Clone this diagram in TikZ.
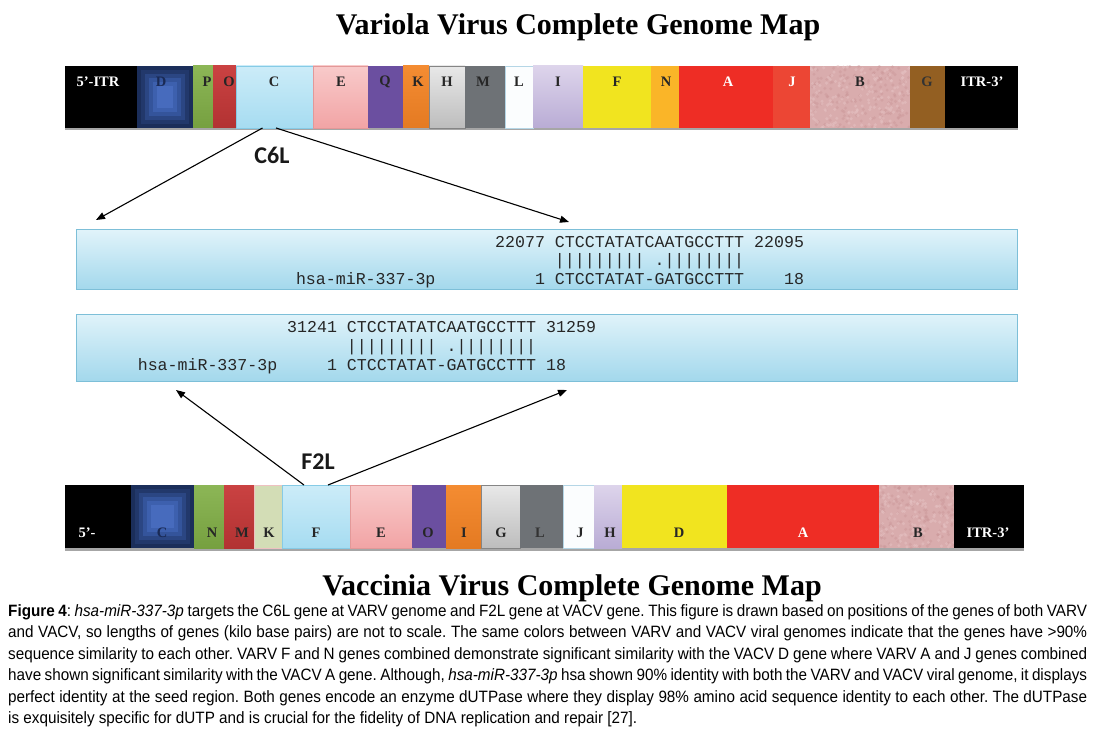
\documentclass[tikz,border=0pt]{standalone}
\usepackage{fontspec}
\setmainfont{Liberation Serif}
\newfontfamily\capfont[FakeStretch=0.93]{Liberation Sans}
\newfontfamily\seqfont{Liberation Mono}
\newfontfamily\tagfont{Carlito}
\usetikzlibrary{arrows.meta,calc}

\definecolor{navyA}{HTML}{1B2E5A}
\definecolor{navyB}{HTML}{22386B}
\definecolor{navyC}{HTML}{2B4683}
\definecolor{navyD}{HTML}{34549B}
\definecolor{navyE}{HTML}{3D60AE}
\definecolor{navyF}{HTML}{476BBD}
\definecolor{grnT}{HTML}{8CB656}
\definecolor{grnB}{HTML}{76A040}
\definecolor{redT}{HTML}{CA4242}
\definecolor{redB}{HTML}{B23232}
\definecolor{lbT}{HTML}{CCECF8}
\definecolor{lbB}{HTML}{A6DCF1}
\definecolor{lbE}{HTML}{86CBE6}
\definecolor{pkT}{HTML}{F8CACA}
\definecolor{pkB}{HTML}{F2A4A5}
\definecolor{pkE}{HTML}{E39898}
\definecolor{purp}{HTML}{6B4FA0}
\definecolor{orT}{HTML}{F48C32}
\definecolor{orB}{HTML}{E47A22}
\definecolor{lgT}{HTML}{E8E8E8}
\definecolor{lgB}{HTML}{BDBDBD}
\definecolor{lgE}{HTML}{858585}
\definecolor{dgray}{HTML}{6E7276}
\definecolor{wht}{HTML}{FBFDFE}
\definecolor{whtE}{HTML}{B5D6E6}
\definecolor{lavT}{HTML}{DDD4EB}
\definecolor{lavB}{HTML}{B9ACD5}
\definecolor{yel}{HTML}{F1E41F}
\definecolor{amber}{HTML}{FAB528}
\definecolor{vred}{HTML}{EE2D25}
\definecolor{redJ}{HTML}{EC4634}
\definecolor{tex}{HTML}{D9ACAD}
\definecolor{texA}{HTML}{C99496}
\definecolor{texB}{HTML}{E6C2C3}
\definecolor{brown}{HTML}{935F22}
\definecolor{paleG}{HTML}{D3DDB6}
\definecolor{lbl}{HTML}{262626}
\definecolor{lblN}{HTML}{1A2A55}
\definecolor{boxT}{HTML}{E0F3FA}
\definecolor{boxB}{HTML}{A3D8EC}
\definecolor{boxE}{HTML}{7DBFD8}

\newcommand\gn[6]{\node[gene, minimum width=#4pt, minimum height=#5pt, #6] (#1) at (#2,#3) {};}
\newcommand\concentric[1]{%
  \foreach \s/\c in {4/navyB,8/navyC,12/navyD,16/navyE,20/navyF}{%
    \fill[\c] ($(#1.north west)+(\s,\s)$) rectangle ($(#1.south east)+(-\s,-\s)$);}}
\newcommand\texture[1]{%
  \begin{scope}
    \clip (#1.north west) rectangle (#1.south east);
    \foreach \k in {1,...,170}{\fill[texA,opacity=.4] ($(#1.north west)+(rnd*100,rnd*63)$) circle (1.7);}
    \foreach \k in {1,...,170}{\fill[texB,opacity=.5] ($(#1.north west)+(rnd*100,rnd*63)$) circle (1.7);}
  \end{scope}}

\tikzset{
  gene/.style={anchor=north west, inner sep=0, outer sep=0, line width=0.6pt},
  glab/.style={font=\bfseries\fontsize{14.5}{14.5}\selectfont, inner sep=0, text=lbl},
  seqbox/.style={anchor=north west, inner sep=0, outer sep=0, minimum width=941pt,
    top color=boxT, bottom color=boxB, draw=boxE, line width=1pt},
  seq/.style={font=\seqfont\fontsize{16.6}{16.6}\selectfont, inner sep=0, anchor=base west, text=black!85},
  arr/.style={line width=1.1pt, -{Triangle[length=9pt,width=7pt]}},
  tag/.style={font=\tagfont\bfseries\fontsize{24}{24}\selectfont, inner sep=0, text=black!90},
  title/.style={font=\bfseries\fontsize{30}{30}\selectfont, inner sep=0, anchor=base},
}

\begin{document}
\begin{tikzpicture}[x=1pt,y=-1pt]
\useasboundingbox (0,0) rectangle (1093,730);
\fill[white] (0,0) rectangle (1093,730);

% titles
\node[title] (ttop) at (578,35) {Variola Virus Complete Genome Map};
\node[title] (tbot) at (572,595) {Vaccinia Virus Complete Genome Map};

% ---------- top genome bar ----------
\fill[black!35] (65,128) rectangle (1018,130.5);
\gn{tITR}{65}{66}{72}{62}{fill=black}
\gn{tD}{137}{66}{56}{62}{fill=navyA}
\concentric{tD}
\gn{tP}{193}{66}{20}{62}{top color=grnT,bottom color=grnB}
\gn{tO}{213}{66}{23}{62}{top color=redT,bottom color=redB}
\gn{tC}{236}{66}{77}{62}{top color=lbT,bottom color=lbB,draw=lbE}
\gn{tE}{313}{66}{55}{62}{top color=pkT,bottom color=pkB,draw=pkE}
\gn{tQ}{368}{66}{35}{62}{fill=purp}
\gn{tK}{403}{66}{26}{62}{top color=orT,bottom color=orB}
\gn{tH}{429}{66}{36}{62}{top color=lgT,bottom color=lgB,draw=lgE}
\gn{tM}{465}{66}{40}{62}{fill=dgray}
\gn{tL}{505}{66}{28}{62}{fill=wht,draw=whtE}
\gn{tI}{533}{66}{50}{62}{top color=lavT,bottom color=lavB}
\gn{tF}{583}{66}{68}{62}{fill=yel}
\gn{tN}{651}{66}{28}{62}{fill=amber}
\gn{tA}{679}{66}{94}{62}{fill=vred}
\gn{tJ}{773}{66}{37}{62}{fill=redJ}
\gn{tB}{810}{66}{100}{62}{fill=tex}
\texture{tB}
\gn{tG}{910}{66}{35}{62}{fill=brown}
\gn{tITRr}{945}{66}{73}{62}{fill=black}

\node[glab,text=white] (ltITR) at (98,82) {5’-ITR};
\node[glab,text=lblN] (ltD) at (161,82) {D};
\node[glab] (ltP) at (207,82) {P};
\node[glab] (ltO) at (229,82) {O};
\node[glab] (ltC) at (274,82) {C};
\node[glab] (ltE) at (341,82) {E};
\node[glab] (ltQ) at (385,82) {Q};
\node[glab] (ltK) at (418,82) {K};
\node[glab] (ltH) at (447,82) {H};
\node[glab] (ltM) at (483,82) {M};
\node[glab] (ltL) at (519,82) {L};
\node[glab] (ltI) at (558,82) {I};
\node[glab] (ltF) at (617,82) {F};
\node[glab] (ltN) at (666,82) {N};
\node[glab,text=white] (ltA) at (728,82) {A};
\node[glab,text=white] (ltJ) at (792,82) {J};
\node[glab] (ltB) at (860,82) {B};
\node[glab,text=black!80] (ltG) at (927,82) {G};
\node[glab,text=white] (ltITRr) at (982,82) {ITR-3’};

% ---------- bottom genome bar ----------
\fill[black!35] (65,548) rectangle (1024,550.5);
\gn{bITR}{65}{485}{66}{63}{fill=black}
\gn{bC}{131}{485}{63}{63}{fill=navyA}
\concentric{bC}
\gn{bN}{194}{485}{30}{63}{top color=grnT,bottom color=grnB}
\gn{bM}{224}{485}{30}{63}{top color=redT,bottom color=redB}
\gn{bK}{254}{485}{28}{63}{fill=paleG,draw=pkE!60}
\gn{bF}{282}{485}{68}{63}{top color=lbT,bottom color=lbB,draw=lbE}
\gn{bE}{350}{485}{62}{63}{top color=pkT,bottom color=pkB,draw=pkE}
\gn{bO}{412}{485}{34}{63}{fill=purp}
\gn{bI}{446}{485}{35}{63}{top color=orT,bottom color=orB}
\gn{bG}{481}{485}{39}{63}{top color=lgT,bottom color=lgB,draw=lgE}
\gn{bL}{520}{485}{43}{63}{fill=dgray}
\gn{bJ}{563}{485}{31}{63}{fill=wht,draw=whtE}
\gn{bH}{594}{485}{28}{63}{top color=lavT,bottom color=lavB}
\gn{bD}{622}{485}{105}{63}{fill=yel}
\gn{bA}{727}{485}{152}{63}{fill=vred}
\gn{bB}{879}{485}{75}{63}{fill=tex}
\texture{bB}
\gn{bITRr}{954}{485}{70}{63}{fill=black}

\node[glab,text=white] (lbITR) at (87,533) {5’-};
\node[glab,text=lblN] (lbC) at (162,533) {C};
\node[glab] (lbN) at (212,533) {N};
\node[glab] (lbM) at (242,533) {M};
\node[glab] (lbK) at (269,533) {K};
\node[glab] (lbF) at (316,533) {F};
\node[glab] (lbE) at (381,533) {E};
\node[glab] (lbO) at (428,533) {O};
\node[glab] (lbI) at (464,533) {I};
\node[glab] (lbG) at (501,533) {G};
\node[glab,text=black!80] (lbL) at (540,533) {L};
\node[glab] (lbJ) at (580,533) {J};
\node[glab] (lbH) at (610,533) {H};
\node[glab] (lbD) at (679,533) {D};
\node[glab,text=white] (lbA) at (803,533) {A};
\node[glab] (lbB) at (918,533) {B};
\node[glab,text=white] (lbITRr) at (988,533) {ITR-3’};

% ---------- alignment boxes ----------
\node[seqbox, minimum height=60pt] (box1) at (76,230) {};
\node[seqbox, minimum height=67pt] (box2) at (76,314) {};

% box 1 (col 0 at x=495)
\node[seq] (s1a) at (495,248) {22077};
\node[seq] (s1b) at ({495+6*9.96},248) {CTCCTATATCAATGCCTTT};
\node[seq] (s1c) at ({495+26*9.96},248) {22095};
\node[seq] (s1d) at ({495+6*9.96},266) {|||||||||~.||||||||};
\node[seq] (s1e) at ({495-20*9.96},285) {hsa-miR-337-3p};
\node[seq] (s1f) at ({495+4*9.96},285) {1};
\node[seq] (s1g) at ({495+6*9.96},285) {CTCCTATAT-GATGCCTTT};
\node[seq] (s1h) at ({495+29*9.96},285) {18};

% box 2 (col 0 at x=287)
\node[seq] (s2a) at (287,332) {31241};
\node[seq] (s2b) at ({287+6*9.96},332) {CTCCTATATCAATGCCTTT};
\node[seq] (s2c) at ({287+26*9.96},332) {31259};
\node[seq] (s2d) at ({287+6*9.96},351) {|||||||||~.||||||||};
\node[seq] (s2e) at ({287-15*9.96},370) {hsa-miR-337-3p};
\node[seq] (s2f) at ({287+4*9.96},370) {1};
\node[seq] (s2g) at ({287+6*9.96},370) {CTCCTATAT-GATGCCTTT};
\node[seq] (s2h) at ({287+26*9.96},370) {18};

% ---------- connectors ----------
\coordinate (c6lL) at (96,220);
\coordinate (c6lR) at (569,222);
\coordinate (f2lL) at (176,390);
\coordinate (f2lR) at (567,390);
\draw[arr] ([xshift=-12pt]tC.south) -- (c6lL);
\draw[arr] ([xshift=1.5pt]tC.south) -- (c6lR);
\draw[arr] ([xshift=-12pt]bF.north) -- (f2lL);
\draw[arr] ([xshift=12pt]bF.north) -- (f2lR);
\node[tag] (c6l) at (272,155) {C6L};
\node[tag] (f2l) at (318,462) {F2L};

% ---------- caption ----------
\node[anchor=north west, inner sep=0, text width=1079pt, align=justify,
      font=\capfont\fontsize{16.4}{21.5}\selectfont\frenchspacing] (cap) at (8,604) {%
\textbf{Figure 4}: \textit{hsa-miR-337-3p} targets the C6L gene at VARV genome and F2L gene at VACV gene. This figure is drawn based on positions of the genes of both VARV\linebreak
and VACV, so lengths of genes (kilo base pairs) are not to scale. The same colors between VARV and VACV viral genomes indicate that the genes have >90\%\linebreak
sequence similarity to each other. VARV F and N genes combined demonstrate significant similarity with the VACV D gene where VARV A and J genes combined\linebreak
have shown significant similarity with the VACV A gene. Although, \textit{hsa-miR-337-3p} hsa shown 90\% identity with both the VARV and VACV viral genome, it displays\linebreak
perfect identity at the seed region. Both genes encode an enzyme dUTPase where they display 98\% amino acid sequence identity to each other. The dUTPase\linebreak
is exquisitely specific for dUTP and is crucial for the fidelity of DNA replication and repair [27].};
\end{tikzpicture}
\end{document}
